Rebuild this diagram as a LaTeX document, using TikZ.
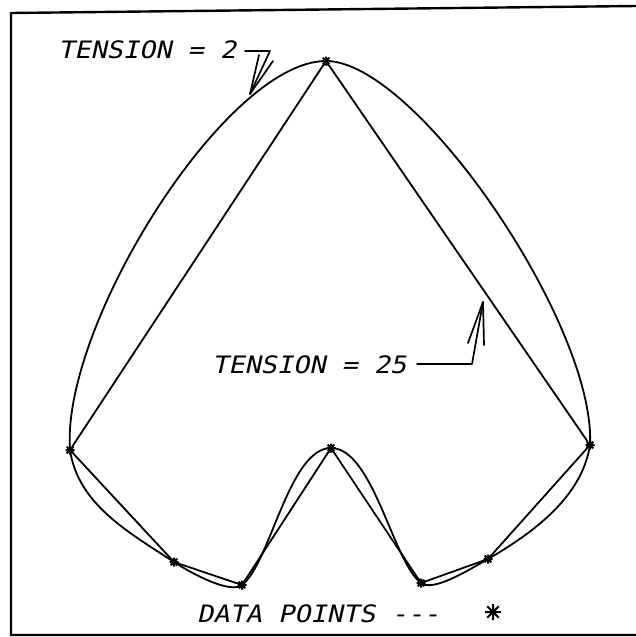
\documentclass[tikz,border=0pt]{standalone}
\usepackage{fontspec}
\newfontfamily\plotfont{DejaVu Sans Mono}[FakeStretch=1.12,FakeSlant=0.22]
\begin{document}
\begin{tikzpicture}[x=1pt,y=-1pt,
  curve/.style={line width=1.8pt,line join=round},
  framel/.style={line width=2.4pt},
  lbl/.style={font=\plotfont\fontsize{24}{24}\selectfont,inner sep=0pt,anchor=west},
  ptr/.style={line width=1.7pt,line join=round,line cap=round},
  datamark/.pic={\draw[line width=2pt] (-4.5,0)--(4.5,0) (0,-4.5)--(0,4.5) (-3.3,-3.3)--(3.3,3.3) (-3.3,3.3)--(3.3,-3.3);},
  legendmark/.pic={\draw[line width=2pt] (-8,0)--(8,0) (0,-8)--(0,8) (-5.7,-5.7)--(5.7,5.7) (-5.7,5.7)--(5.7,-5.7);}
]
\useasboundingbox (0,0) rectangle (636,637);
\fill[white] (0,0) rectangle (636,637);
% frame (left, top, bottom)
\coordinate (FTR) at (636,6);
\coordinate (FTL) at (11,13);
\coordinate (FBL) at (11,635);
\coordinate (FBR) at (636,635);
\draw[framel] (FTR) -- (FTL) -- (FBL) -- (FBR);
% data points
\coordinate (P1) at (326,61);
\coordinate (P2) at (70,450);
\coordinate (P3) at (174,562);
\coordinate (P4) at (242,585);
\coordinate (P5) at (331,448);
\coordinate (P6) at (421,583);
\coordinate (P7) at (488,559);
\coordinate (P8) at (590,445);
% tension = 2 curve
\draw[curve] (P2) .. controls +(-9,-125) and +(-100,0) .. (P1)
  .. controls +(90,0) and +(6,-120) .. (P8)
  .. controls +(-8,52) and +(45,-26) .. (P7)
  .. controls +(-21,12) and +(12,9) .. (P6)
  .. controls +(-28,-21) and +(42,0) .. (P5)
  .. controls +(-42,0) and +(28,-21) .. (P4)
  .. controls +(-12,9) and +(18.5,12) .. (P3)
  .. controls +(-46,-30) and +(8,54) .. (P2);
% tension = 25 curve
\draw[curve,rounded corners=6pt] (P2) -- (P1) -- (P8) -- (P7) -- (P6) -- (P5) -- (P4) -- (P3) -- cycle;
% markers
\foreach \p in {P1,P2,P3,P4,P5,P6,P7,P8} \pic at (\p) {datamark};
% labels
\node[lbl] (t2) at (58,50) {TENSION = 2};
\node[lbl] (t25) at (212,365) {TENSION = 25};
\node[lbl] (dp) at (197,614) {DATA POINTS ---};
\pic at (493,612) {legendmark};
% pointer for tension 2
\coordinate (A2s) at (245,51);
\coordinate (A2b) at (270,51);
\coordinate (A2t) at (250,94);
\coordinate (A2l) at (259,55);
\coordinate (A2r) at (273,61);
\draw[ptr] (A2s) -- (A2b) -- (A2t);
\draw[ptr] (A2l) -- (A2t) -- (A2r);
% pointer for tension 25
\coordinate (A5s) at (417,364);
\coordinate (A5b) at (472,364);
\coordinate (A5t) at (483,302);
\coordinate (A5l) at (468,343);
\coordinate (A5r) at (484,345);
\draw[ptr] (A5s) -- (A5b) -- (A5t);
\draw[ptr] (A5l) -- (A5t) -- (A5r);
\end{tikzpicture}
\end{document}
